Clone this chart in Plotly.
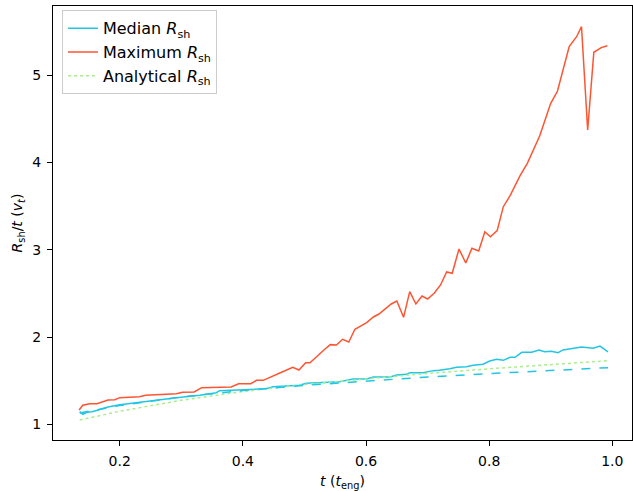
import plotly.graph_objects as go

# Maximum shock radius over time
t_max = [0.134, 0.140, 0.151, 0.163, 0.181, 0.192, 0.200, 0.232, 0.242, 0.292, 0.302,
         0.321, 0.333, 0.381, 0.393, 0.413, 0.422, 0.433, 0.460, 0.481, 0.491, 0.502,
         0.509, 0.520, 0.533, 0.542, 0.552, 0.562, 0.572, 0.582, 0.601, 0.612, 0.621,
         0.641, 0.650, 0.661, 0.671, 0.681, 0.691, 0.700, 0.711, 0.721, 0.731, 0.740,
         0.751, 0.762, 0.772, 0.783, 0.793, 0.802, 0.813, 0.823, 0.834, 0.850, 0.862,
         0.882, 0.900, 0.911, 0.930, 0.942, 0.950, 0.960, 0.970, 0.982, 0.992]
r_max = [1.164, 1.218, 1.236, 1.236, 1.279, 1.282, 1.305, 1.316, 1.332, 1.351, 1.367,
         1.370, 1.420, 1.427, 1.465, 1.465, 1.504, 1.504, 1.588, 1.653, 1.622, 1.706,
         1.706, 1.780, 1.860, 1.913, 1.909, 1.974, 1.943, 2.089, 2.165, 2.230, 2.264,
         2.379, 2.413, 2.226, 2.520, 2.379, 2.470, 2.436, 2.505, 2.597, 2.746, 2.731,
         3.009, 2.849, 3.017, 2.986, 3.207, 3.150, 3.219, 3.494, 3.620, 3.846, 3.991,
         4.304, 4.679, 4.820, 5.328, 5.442, 5.557, 4.373, 5.264, 5.317, 5.339]

# Median shock radius over time
t_med = [0.135, 0.140, 0.147, 0.155, 0.165, 0.181, 0.200, 0.238, 0.292, 0.330, 0.357,
         0.362, 0.438, 0.449, 0.492, 0.503, 0.557, 0.579, 0.601, 0.612, 0.639, 0.650,
         0.666, 0.671, 0.693, 0.709, 0.719, 0.736, 0.747, 0.763, 0.774, 0.790, 0.801,
         0.812, 0.823, 0.834, 0.842, 0.853, 0.869, 0.881, 0.890, 0.901, 0.912, 0.920,
         0.936, 0.950, 0.969, 0.980, 0.993]
r_med = [1.145, 1.115, 1.137, 1.145, 1.164, 1.198, 1.225, 1.259, 1.305, 1.332, 1.362,
         1.385, 1.408, 1.431, 1.447, 1.470, 1.488, 1.519, 1.519, 1.542, 1.542, 1.565,
         1.573, 1.592, 1.592, 1.615, 1.619, 1.637, 1.653, 1.660, 1.676, 1.688, 1.725,
         1.745, 1.733, 1.768, 1.768, 1.825, 1.825, 1.852, 1.832, 1.837, 1.821, 1.852,
         1.866, 1.886, 1.871, 1.897, 1.829]

# Fit to the median radius
t_fit = [0.135, 0.2, 0.3, 0.4, 0.5, 0.6, 0.7, 0.8, 0.9, 0.993]
r_fit = [1.130, 1.215, 1.313, 1.386, 1.446, 1.497, 1.542, 1.581, 1.617, 1.649]

# Analytical shock radius
t_ana = [0.135, 0.2, 0.3, 0.4, 0.5, 0.6, 0.7, 0.8, 0.9, 0.993]
r_ana = [1.049, 1.150, 1.275, 1.375, 1.455, 1.522, 1.583, 1.636, 1.685, 1.729]

CYAN = "#22c6e2"
RED = "#fd5532"
GREEN = "#a9ee8c"

fig = go.Figure()
fig.add_trace(go.Scatter(x=t_med, y=r_med, mode="lines", name="Median <i>R</i><sub>sh</sub>",
                         line=dict(color=CYAN, width=1.5), legendgroup="a"))
fig.add_trace(go.Scatter(x=t_max, y=r_max, mode="lines", name="Maximum <i>R</i><sub>sh</sub>",
                         line=dict(color=RED, width=1.5), legendgroup="b"))
fig.add_trace(go.Scatter(x=t_ana, y=r_ana, mode="lines", name="Analytical <i>R</i><sub>sh</sub>",
                         line=dict(color=GREEN, width=1.5, dash="dot"), legendgroup="c"))
fig.add_trace(go.Scatter(x=t_fit, y=r_fit, mode="lines", showlegend=False,
                         line=dict(color=CYAN, width=1.5, dash="dash")))

axis_common = dict(
    showline=True, linecolor="black", linewidth=1, mirror=True,
    ticks="outside", ticklen=5, tickcolor="black", tickwidth=1,
    showgrid=False, zeroline=False,
    tickfont=dict(family="DejaVu Sans", size=14, color="black"),
)

fig.update_layout(
    width=633, height=491,
    margin=dict(l=53, r=1, t=6, b=51),
    paper_bgcolor="white", plot_bgcolor="white",
    font=dict(family="DejaVu Sans", size=14, color="black"),
    xaxis=dict(range=[0.0916, 1.032], tickvals=[0.2, 0.4, 0.6, 0.8, 1.0],
               ticktext=["0.2", "0.4", "0.6", "0.8", "1.0"], ticklabelstandoff=3,
               title=dict(text="<i>t</i> (<i>t</i><sub>eng</sub>)", standoff=9,
                          font=dict(size=14)),
               **axis_common),
    yaxis=dict(range=[0.82, 5.794], tickvals=[1, 2, 3, 4, 5], ticklabelstandoff=3,
               title=dict(text="<i>R</i><sub>sh</sub>/<i>t</i> (<i>v<sub>t</sub></i>)", standoff=6,
                          font=dict(size=14)),
               **axis_common),
    legend=dict(x=0.0155, y=0.99, xanchor="left", yanchor="top",
                bgcolor="rgba(255,255,255,0.8)", bordercolor="#cccccc", borderwidth=1,
                font=dict(size=16), tracegroupgap=3, traceorder="normal"),
    showlegend=True,
)

fig.write_html("out.html")
